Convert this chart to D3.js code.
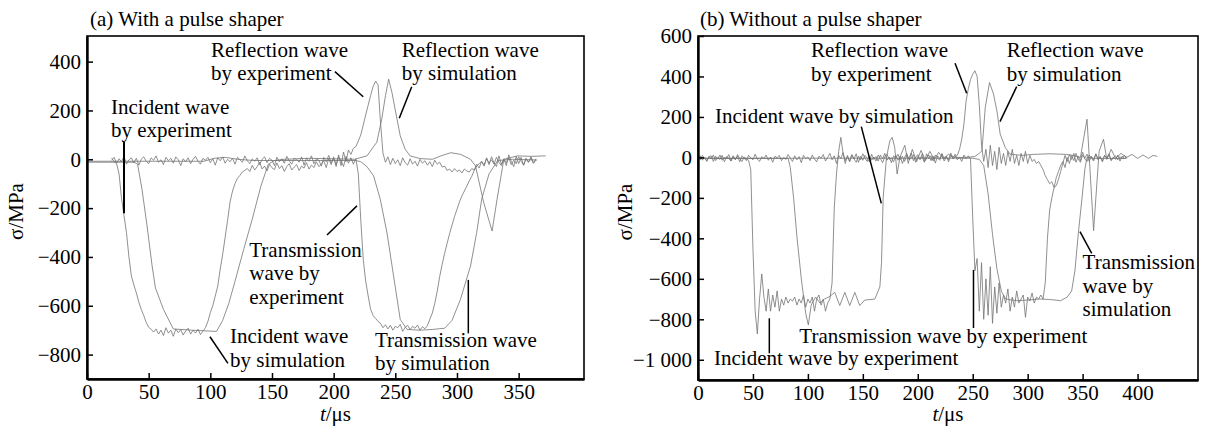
<!DOCTYPE html>
<html>
<head>
<meta charset="utf-8">
<script src="https://cdn.jsdelivr.net/npm/d3@7"></script>
<style>
  body { margin: 0; background: #fff; }
  svg text { font-family: "Liberation Serif", "Times New Roman", serif; fill: #000; }
</style>
</head>
<body>
<svg id="chart" width="1211" height="432"></svg>
<script>
// ---- (a) With a pulse shaper : sampled every 2 us from t = 20 ----
const aIncExpV = [
  5, -10, -18, -60, -160, -230, -300, -400, -478, -515,
  -547, -585, -615, -640, -668, -688, -696, -708, -695, -716,
  -700, -722, -690, -712, -700, -725, -695, -710, -698, -720,
  -703, -692, -716, -700, -712, -696, -718, -704, -690, -665,
  -628, -600, -560, -520, -450, -390, -320, -250, -175, -130,
  -100, -78, -66, -52, -45, -38, -50, -25, -44, -30,
  -12, -40, -28, -48, -20, -35, -42, -15, -38, -26,
  -50, -30, -18, -44, -32, -22, -46, -28, -36, -14,
  -40, -24, -34, -10, -30, -20, -6, -34, 4, -22,
  10, -30, 18, -26, 30, -10, 38, 20, 45, 52,
  75, 100, 140, 182, 222, 262, 298, 320, 305, 150,
  25, -12, 10, -22, 4, -18, -2, -26, 6, -14,
  -24, 2, -20, -8, -28, 0, -16, -6, -24, -10,
  -30, -4, -20, -12, -32, -28, -46, -40, -52, -38,
  -50, -44, -56, -40, -48, -52, -38, -44, -20, -36,
  -8, -28, 6, -22, 10, -14, -30, 14, -20, 2,
  -26, 18, -8, -30, 12, -18, 8, -24, 4, -12,
  10, -16, 2
];
const aTrExpV = [
  -4, 8, -16, 2, -10, 12, -20, -2, 6, -14,
  4, -24, 0, 10, -8, -18, 6, -4, 14, -12,
  -2, -22, 8, -6, 4, -16, 10, -2, -26, 2,
  -10, 6, -18, 0, 12, -8, -20, 4, -4, 8,
  -14, 2, -24, 6, -6, 10, -16, 0, -10, 4,
  -20, 8, -2, -12, 14, -6, -18, 2, -8, 6,
  -22, 0, 10, -14, 4, -4, -26, 8, -10, 2,
  -16, 12, -6, -20, 4, 0, -12, 10, -24, 6,
  -8, 14, -18, 2, -4, -28, 8, -10, 16, -14,
  4, -22, 10, -6, -30, 12, -16, 6, -20, 2,
  -60, -250, -410, -500, -560, -615, -640, -652, -664, -672,
  -690, -678, -695, -680, -700, -684, -690, -676, -705, -688,
  -680, -698, -684, -692, -679, -700, -686, -694, -682, -655,
  -630, -590, -540, -480, -430, -385, -345, -305, -270, -235,
  -205, -175, -150, -130, -110, -88, -70, -45, -28, -18,
  -10, -24, 4, -16, -2, -20, 8, -12, -26, 0,
  -14, 6, -22, -4, -18, 10, -8, -24, 2, -12,
  6, -16, -4
];
const aIncSim = [[0,-12],[38,-12],[41,-20],[44.6,-123],[48.7,-273],[52.8,-437],[55.5,-527],[62,-615],[70,-695],
  [85,-700],[105,-705],[110,-660],[115,-590],[120,-500],[127,-370],[134,-245],[141,-110],[147,-20],[152,-5],
  [160,0],[180,4],[200,2],[217,0],[227,14],[235,70],[239,164],[242,260],[244.6,328],[247.3,273],[251.4,164],
  [254,96],[258,41],[262,14],[270,3],[280,0],[287,14],[295,27],[303,20],[311,0],[315,-27],[321.7,-178],
  [328.5,-294],[332.5,-164],[338,0],[349,14],[360,12],[372,14]];
const aTrSim = [[0,-8],[95,-8],[103,4],[112,8],[122,0],[135,-5],[218,-5],[222,-10],[227,-30],[232.4,-68],
  [237.8,-164],[243.2,-300],[248.6,-478],[254,-656],[259.5,-697],[270,-700],[280,-697],[290,-692],[296,-660],
  [302.8,-574],[311,-437],[316,-300],[320,-164],[326,-60],[333,-5],[345,0],[365,-3]];

// ---- (b) Without a pulse shaper : sampled every 2 us from t = 0 ----
const bIncExpV = [
  -6, 8, -14, 2, -20, 6, -8, 12, -16, 0,
  -10, 10, -22, 4, -4, -18, 8, -12, 14, -6,
  -20, 2, -8, -14, -60, -450, -760, -872, -700, -576,
  -690, -760, -650, -760, -680, -740, -660, -760, -700, -730,
  -690, -720, -700, -710, -690, -730, -700, -720, -680, -740,
  -700, -720, -690, -760, -700, -680, -730, -700, -760, -720,
  -700, -620, -250, -82, 30, 99, 20, -30, 10, -20,
  14, -8, -24, 6, -12, 18, -4, -20, 8, -14,
  2, -18, 12, -6, -26, 4, 16, -10, -2, -22,
  10, -14, 6, -30, 0, 20, -12, -4, 14, -24,
  4, -10, 18, -20, -2, 12, -16, 6, -28, 8,
  -6, 14, -18, 2, -12, 22, -8, 4, 10, 40,
  90, 165, 280, 340, 385, 411, 428, 400, 260, 60,
  -20, 40, -50, 60, -40, 30, -60, 50, -30, 20,
  -40, 30, -20, 40, -30, 10, -40, 20, -20, 30,
  -30, 10, -20, -10, -30, -20, -40, -60, -90, -110,
  -130, -120, -148, -140, -110, -70, -30, 10, -20, 14,
  -10, 20, -24, 6, -16, 26, -8, -20, 12, -4,
  -18, 16, -12, 4, -22, 10, -6, 18, -14, 2,
  -10, 12, -18, 6, -8, 4
];
const bTrExpV = [
  4, -12, 10, -4, -16, 2, 8, -20, 6, -8,
  12, -14, 0, -6, 14, -18, 4, -10, 6, -22,
  8, -4, -16, 10, -2, -12, 16, -8, -20, 4,
  -6, 12, -14, 2, -24, 6, -2, 10, -16, 0,
  -10, 14, -4, -20, 8, -12, 4, -26, 10, -6,
  2, -16, 12, -8, -22, 6, -4, 14, -18, 0,
  20, -12, 8, -30, 10, -6, 24, -16, 4, -20,
  12, -8, 18, -24, 6, -14, 10, -4, -22, 16,
  -10, 4, -18, 12, -6, 20, -14, 2, -26, 8,
  -4, 16, -12, 6, -20, 10, -8, 22, -16, 0,
  14, -10, 4, -24, 18, -6, 8, -18, 12, -2,
  -14, 20, -8, 6, -22, 10, -4, 16, -12, 2,
  -20, 12, -6, 8, -10, -300, -560, -500, -760, -520,
  -800, -600, -780, -540, -820, -640, -770, -620, -740, -680,
  -720, -650, -760, -690, -740, -660, -720, -700, -680, -790,
  -690, -710, -670, -720, -690, -700, -680, -700, -620, -400,
  -260, -200, -150, -100, -70, -40, -20, -50, 0, -30,
  10, -16, 20, -8, -24, 12, -4, 16, -20, 6,
  -12, 18, -6, 4, -18, 10, -2, 14, -16, 0,
  8, -12, 4, -8, 10, -4
];
const bIncSim = [[0,-5],[82,-5],[84,-50],[87,-200],[90,-390],[94,-600],[98,-770],[100.4,-828],[103,-730],
  [107,-690],[111,-720],[115,-700],[119,-690],[124.5,-667],[129,-732],[133.6,-667],[138.1,-732],[142.7,-667],
  [147.2,-732],[151.8,-705],[160.9,-700],[165.5,-640],[167,-520],[168.5,-200],[171.5,0],[174.6,82],[176.7,99],
  [179,50],[181.2,-82],[183.7,0],[188.2,60],[191.3,-30],[195,40],[199,-20],[203,35],[207,-15],[211,30],
  [215,-10],[219,25],[223,-5],[228,15],[234,0],[245,0],[252,5],[256,20],[258.4,33],[261.4,247],[265.3,370],
  [268.9,313],[272,230],[275,115],[279.6,49],[284,16],[295,10],[305,15],[320,18],[335,15],[341,10],[348,0],
  [354,189],[360,-362],[365,30],[369,90],[372,-10],[376,40],[380,-5],[385,20],[390,0],[395,15],[400,-5],
  [405,12],[410,-5],[414,10],[418,5]];
const bTrSim = [[0,-4],[250,-4],[256,-10],[260,-40],[264,-180],[268,-380],[272,-550],[276,-660],[280,-700],
  [290,-708],[300,-705],[310,-700],[320,-702],[330,-708],[336,-690],[340,-660],[343,-560],[346,-380],
  [349.5,-198],[352,-60],[354,0],[362,-5],[390,-5]];

// ---- axis ticks ----
const aXTicks = [0, 50, 100, 150, 200, 250, 300, 350];
const aYTicks = [400, 200, 0, -200, -400, -600, -800];
const bXTicks = [0, 50, 100, 150, 200, 250, 300, 350, 400];
const bYTicks = [600, 400, 200, 0, -200, -400, -600, -800, -1000];

// annotations in data units: text lines with baseline v, pointer [t1, v1, t2, v2]
const aNotes = [
  {t: 100.5, v: [419, 325], text: ["Reflection wave", "by experiment"], ptr: [201, 359, 224, 256]},
  {t: 255.2, v: [419, 325], text: ["Reflection wave", "by simulation"], ptr: [263.3, 297, 253.2, 168]},
  {t: 19.5, v: [185, 91], text: ["Incident wave", "by experiment"], ptr: [30, 72, 30, -221], w: 2},
  {t: 131.6, v: [-400, -496, -592], text: ["Transmission", "wave by", "experiment"], ptr: [194.6, -310, 218.9, -191]},
  {t: 116, v: [-754, -850], text: ["Incident wave", "by simulation"], ptr: [99.7, -727, 114.3, -836]},
  {t: 233.5, v: [-768, -863], text: ["Transmission wave", "by simulation"], ptr: [309.2, -494, 309.2, -713]}
];
const bNotes = [
  {t: 102.8, v: [498, 376], text: ["Reflection wave", "by experiment"], ptr: [233.9, 465, 244.5, 317]},
  {t: 280.9, v: [498, 376], text: ["Reflection wave", "by simulation"], ptr: [290, 350, 274.8, 177]},
  {t: 15.5, v: [169], text: ["Incident wave by simulation"], ptr: [148.6, 152, 166.8, -227]},
  {t: 92.2, v: [-919], text: ["Transmission wave by experiment"], ptr: [250.7, -556, 250.7, -843]},
  {t: 14.6, v: [-1026], text: ["Incident wave by experiment"], ptr: [64.9, -795, 64.9, -968]},
  {t: 350, v: [-552, -668, -784], text: ["Transmission", "wave by", "simulation"], ptr: [347.6, -367, 358.3, -474]}
];

const seq = (t0, step, vals) => vals.map((v, i) => [t0 + i * step, v]);

const panels = [
  {
    title: "(a) With a pulse shaper", left: 87, right: 584, top: 36, bottom: 379,
    xDomain: [0, 403], yDomain: [-900, 505], xTicks: aXTicks, yTicks: aYTicks,
    series: [aTrSim, aIncSim, seq(20, 2, aTrExpV), seq(20, 2, aIncExpV)],
    notes: aNotes, titleX: 90, yLabelX: 23
  },
  {
    title: "(b) Without a pulse shaper", left: 698, right: 1198, top: 36, bottom: 380,
    xDomain: [0, 455], yDomain: [-1100, 600], xTicks: bXTicks, yTicks: bYTicks,
    series: [bTrSim, bIncSim, seq(0, 2, bTrExpV), seq(0, 2, bIncExpV)],
    notes: bNotes, titleX: 700, yLabelX: 632
  }
];

const svg = d3.select("#chart");
const fmt = d3.formatLocale({decimal: ".", thousands: " ", grouping: [3], currency: ["", ""], minus: "\u2212"}).format(",d");
const fontSize = 21;

panels.forEach((p, pi) => {
  const x = d3.scaleLinear().domain(p.xDomain).range([p.left, p.right]);
  const y = d3.scaleLinear().domain(p.yDomain).range([p.bottom, p.top]);

  svg.append("clipPath").attr("id", "clip" + pi)
    .append("rect")
    .attr("x", p.left).attr("y", p.top)
    .attr("width", p.right - p.left).attr("height", p.bottom - p.top);

  const line = d3.line().x(d => x(d[0])).y(d => y(d[1]));
  svg.append("g").attr("clip-path", "url(#clip" + pi + ")")
    .selectAll("path").data(p.series).join("path")
    .attr("d", line)
    .attr("fill", "none")
    .attr("stroke", "#737373")
    .attr("stroke-width", 0.8);

  // frame
  svg.append("rect")
    .attr("x", p.left).attr("y", p.top)
    .attr("width", p.right - p.left).attr("height", p.bottom - p.top)
    .attr("fill", "none").attr("stroke", "#000").attr("stroke-width", 1.6);

  const xAxis = svg.append("g")
    .attr("transform", "translate(0," + p.bottom + ")")
    .call(d3.axisBottom(x).tickValues(p.xTicks).tickFormat(fmt).tickSizeInner(-6).tickSizeOuter(0).tickPadding(5));
  const yAxis = svg.append("g")
    .attr("transform", "translate(" + p.left + ",0)")
    .call(d3.axisLeft(y).tickValues(p.yTicks).tickFormat(fmt).tickSizeInner(-6).tickSizeOuter(0).tickPadding(6));
  [xAxis, yAxis].forEach(g => {
    g.attr("font-family", null);
    g.select(".domain").attr("stroke-width", 2.4);
    g.selectAll(".tick line").attr("stroke-width", 1.5);
    g.selectAll("text").attr("font-size", fontSize).attr("fill", "#000");
  });

  // titles and axis labels
  svg.append("text").attr("x", p.titleX).attr("y", 26).attr("font-size", fontSize).text(p.title);

  svg.append("text")
    .attr("transform", "translate(" + p.yLabelX + "," + ((p.top + p.bottom) / 2 + 4) + ") rotate(-90)")
    .attr("text-anchor", "middle").attr("font-size", fontSize)
    .text("\u03c3/MPa");

  const xl = svg.append("text")
    .attr("x", (p.left + p.right) / 2).attr("y", 421)
    .attr("text-anchor", "middle").attr("font-size", fontSize);
  xl.append("tspan").attr("font-style", "italic").text("t");
  xl.append("tspan").text("/\u03bcs");

  // annotations
  const notes = svg.append("g");
  p.notes.forEach(n => {
    notes.append("line")
      .attr("x1", x(n.ptr[0])).attr("y1", y(n.ptr[1]))
      .attr("x2", x(n.ptr[2])).attr("y2", y(n.ptr[3]))
      .attr("stroke", "#000").attr("stroke-width", n.w || 1.5);
    n.text.forEach((s, i) => {
      notes.append("text")
        .attr("x", x(n.t)).attr("y", y(n.v[i]))
        .attr("font-size", fontSize)
        .text(s);
    });
  });
});
</script>
</body>
</html>
